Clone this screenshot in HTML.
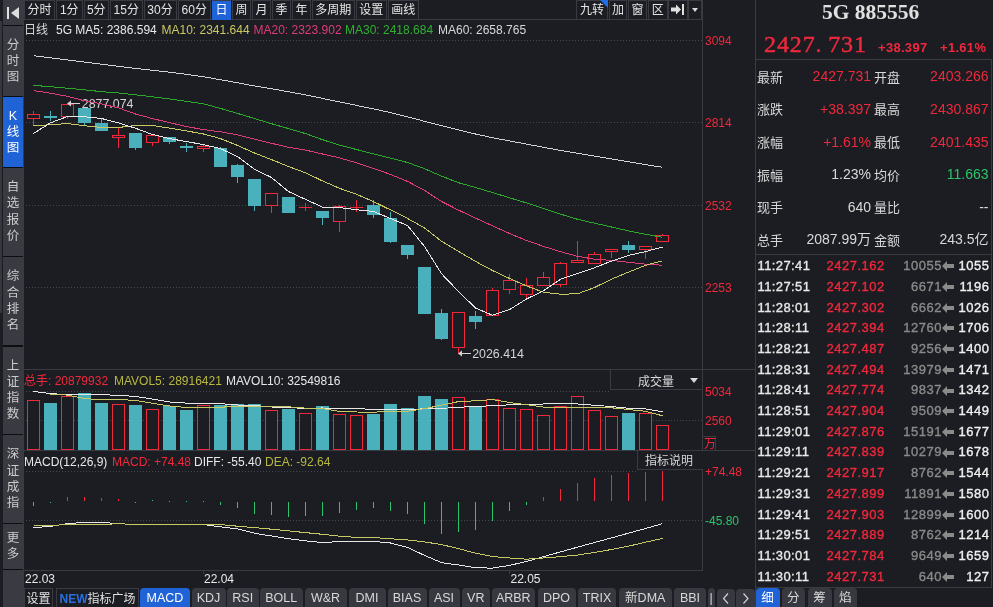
<!DOCTYPE html>
<html><head><meta charset="utf-8"><title>5G 885556</title>
<style>
html,body{margin:0;padding:0;background:#1b1d22;}
body{width:993px;height:607px;overflow:hidden;position:relative;font-family:'Liberation Sans', 'Noto Sans CJK SC', sans-serif;}
</style></head><body>
<svg id="chart" width="993" height="607" viewBox="0 0 993 607" style="position:absolute;left:0;top:0">
<line x1="26" y1="40.5" x2="702" y2="40.5" stroke="#44454d" stroke-width="1" stroke-dasharray="1 2"/>
<line x1="26" y1="122.5" x2="702" y2="122.5" stroke="#44454d" stroke-width="1" stroke-dasharray="1 2"/>
<line x1="26" y1="205.5" x2="702" y2="205.5" stroke="#44454d" stroke-width="1" stroke-dasharray="1 2"/>
<line x1="26" y1="287.5" x2="702" y2="287.5" stroke="#44454d" stroke-width="1" stroke-dasharray="1 2"/>
<line x1="26" y1="391.5" x2="610" y2="391.5" stroke="#44454d" stroke-width="1" stroke-dasharray="1 2"/>
<line x1="26" y1="420.5" x2="702" y2="420.5" stroke="#44454d" stroke-width="1" stroke-dasharray="1 2"/>
<line x1="26" y1="471.5" x2="636" y2="471.5" stroke="#44454d" stroke-width="1" stroke-dasharray="1 2"/>
<line x1="26" y1="520.5" x2="702" y2="520.5" stroke="#44454d" stroke-width="1" stroke-dasharray="1 2"/>
<g shape-rendering="crispEdges">
<rect x="33" y="111" width="1" height="3.0" fill="#f0283c"/>
<rect x="33" y="119" width="1" height="7.0" fill="#f0283c"/>
<rect x="27.5" y="114.5" width="12" height="4.0" fill="#1b1d22" stroke="#f0283c" stroke-width="1"/>
<rect x="50" y="111" width="1" height="5.0" fill="#4ab0bc"/>
<rect x="50" y="118" width="1" height="3.0" fill="#4ab0bc"/>
<rect x="44.0" y="116" width="13" height="2.0" fill="#4ab0bc"/>
<rect x="67" y="116.5" width="1" height="2.5" fill="#f0283c"/>
<rect x="61.5" y="104.5" width="12" height="11.5" fill="#1b1d22" stroke="#f0283c" stroke-width="1"/>
<rect x="84" y="123" width="1" height="2.0" fill="#4ab0bc"/>
<rect x="78.0" y="108" width="13" height="15.0" fill="#4ab0bc"/>
<rect x="101" y="119" width="1" height="4.0" fill="#4ab0bc"/>
<rect x="95.0" y="123" width="13" height="8.0" fill="#4ab0bc"/>
<rect x="118" y="128" width="1" height="7.0" fill="#f0283c"/>
<rect x="118" y="138" width="1" height="10.0" fill="#f0283c"/>
<rect x="112.5" y="135.5" width="12" height="2.0" fill="#1b1d22" stroke="#f0283c" stroke-width="1"/>
<rect x="135" y="148" width="1" height="2.0" fill="#4ab0bc"/>
<rect x="129.0" y="133" width="13" height="15.0" fill="#4ab0bc"/>
<rect x="152" y="142.5" width="1" height="3.5" fill="#f0283c"/>
<rect x="146.5" y="135.5" width="12" height="6.5" fill="#1b1d22" stroke="#f0283c" stroke-width="1"/>
<rect x="169" y="142" width="1" height="2.0" fill="#4ab0bc"/>
<rect x="163.0" y="137" width="13" height="5.0" fill="#4ab0bc"/>
<rect x="186" y="143" width="1" height="3.0" fill="#4ab0bc"/>
<rect x="186" y="148" width="1" height="4.0" fill="#4ab0bc"/>
<rect x="180.0" y="146" width="13" height="2.0" fill="#4ab0bc"/>
<rect x="203" y="145" width="1" height="1.0" fill="#f0283c"/>
<rect x="203" y="149" width="1" height="3.0" fill="#f0283c"/>
<rect x="197.5" y="146.5" width="12" height="2.0" fill="#1b1d22" stroke="#f0283c" stroke-width="1"/>
<rect x="220" y="147" width="1" height="1.0" fill="#4ab0bc"/>
<rect x="214.0" y="148" width="13" height="19.0" fill="#4ab0bc"/>
<rect x="237" y="164" width="1" height="1.0" fill="#4ab0bc"/>
<rect x="237" y="177" width="1" height="6.0" fill="#4ab0bc"/>
<rect x="231.0" y="165" width="13" height="12.0" fill="#4ab0bc"/>
<rect x="254" y="206" width="1" height="5.0" fill="#4ab0bc"/>
<rect x="248.0" y="179" width="13" height="27.0" fill="#4ab0bc"/>
<rect x="271" y="205.5" width="1" height="7.5" fill="#f0283c"/>
<rect x="265.5" y="193.5" width="12" height="11.5" fill="#1b1d22" stroke="#f0283c" stroke-width="1"/>
<rect x="282.0" y="197" width="13" height="16.0" fill="#4ab0bc"/>
<rect x="305" y="203" width="1" height="4.0" fill="#f0283c"/>
<rect x="305" y="208" width="1" height="3.0" fill="#f0283c"/>
<rect x="299.0" y="207" width="13" height="1" fill="#f0283c"/>
<rect x="322" y="218" width="1" height="7.0" fill="#4ab0bc"/>
<rect x="316.0" y="211" width="13" height="7.0" fill="#4ab0bc"/>
<rect x="339" y="205" width="1" height="1.0" fill="#f0283c"/>
<rect x="339" y="221.5" width="1" height="10.5" fill="#f0283c"/>
<rect x="333.5" y="206.5" width="12" height="14.5" fill="#1b1d22" stroke="#f0283c" stroke-width="1"/>
<rect x="356" y="200" width="1" height="7.0" fill="#f0283c"/>
<rect x="356" y="208" width="1" height="4.0" fill="#f0283c"/>
<rect x="350.0" y="207" width="13" height="1" fill="#f0283c"/>
<rect x="373" y="200" width="1" height="5.0" fill="#4ab0bc"/>
<rect x="373" y="215" width="1" height="3.0" fill="#4ab0bc"/>
<rect x="367.0" y="205" width="13" height="10.0" fill="#4ab0bc"/>
<rect x="390" y="212" width="1" height="6.0" fill="#4ab0bc"/>
<rect x="390" y="242" width="1" height="1.0" fill="#4ab0bc"/>
<rect x="384.0" y="218" width="13" height="24.0" fill="#4ab0bc"/>
<rect x="407" y="255" width="1" height="4.0" fill="#4ab0bc"/>
<rect x="401.0" y="245" width="13" height="10.0" fill="#4ab0bc"/>
<rect x="418.0" y="267" width="13" height="47.0" fill="#4ab0bc"/>
<rect x="441" y="309" width="1" height="4.0" fill="#4ab0bc"/>
<rect x="441" y="339" width="1" height="1.0" fill="#4ab0bc"/>
<rect x="435.0" y="313" width="13" height="26.0" fill="#4ab0bc"/>
<rect x="458" y="347.5" width="1" height="6.5" fill="#f0283c"/>
<rect x="452.5" y="312.5" width="12" height="34.5" fill="#1b1d22" stroke="#f0283c" stroke-width="1"/>
<rect x="475" y="311" width="1" height="5.0" fill="#4ab0bc"/>
<rect x="475" y="322" width="1" height="7.0" fill="#4ab0bc"/>
<rect x="469.0" y="316" width="13" height="6.0" fill="#4ab0bc"/>
<rect x="492" y="288" width="1" height="2.0" fill="#f0283c"/>
<rect x="486.5" y="290.5" width="12" height="24.5" fill="#1b1d22" stroke="#f0283c" stroke-width="1"/>
<rect x="509" y="274" width="1" height="6.0" fill="#f0283c"/>
<rect x="509" y="289.5" width="1" height="4.5" fill="#f0283c"/>
<rect x="503.5" y="280.5" width="12" height="8.5" fill="#1b1d22" stroke="#f0283c" stroke-width="1"/>
<rect x="526" y="278" width="1" height="7.0" fill="#f0283c"/>
<rect x="526" y="295" width="1" height="4.5" fill="#f0283c"/>
<rect x="520.5" y="285.5" width="12" height="9.0" fill="#1b1d22" stroke="#f0283c" stroke-width="1"/>
<rect x="543" y="272" width="1" height="5.0" fill="#f0283c"/>
<rect x="537.5" y="277.5" width="12" height="7.5" fill="#1b1d22" stroke="#f0283c" stroke-width="1"/>
<rect x="560" y="262" width="1" height="1.0" fill="#f0283c"/>
<rect x="560" y="284.5" width="1" height="2.5" fill="#f0283c"/>
<rect x="554.5" y="263.5" width="12" height="20.5" fill="#1b1d22" stroke="#f0283c" stroke-width="1"/>
<rect x="577" y="241" width="1" height="19.0" fill="#f0283c"/>
<rect x="571.5" y="260.5" width="12" height="2.0" fill="#1b1d22" stroke="#f0283c" stroke-width="1"/>
<rect x="594" y="252" width="1" height="2.0" fill="#f0283c"/>
<rect x="588.5" y="254.5" width="12" height="9.0" fill="#1b1d22" stroke="#f0283c" stroke-width="1"/>
<rect x="611" y="252" width="1" height="6.0" fill="#f0283c"/>
<rect x="605.5" y="249.5" width="12" height="2.0" fill="#1b1d22" stroke="#f0283c" stroke-width="1"/>
<rect x="628" y="241" width="1" height="4.0" fill="#4ab0bc"/>
<rect x="628" y="250" width="1" height="3.0" fill="#4ab0bc"/>
<rect x="622.0" y="245" width="13" height="5.0" fill="#4ab0bc"/>
<rect x="645" y="249.5" width="1" height="9.5" fill="#f0283c"/>
<rect x="639.5" y="246.5" width="12" height="2.5" fill="#1b1d22" stroke="#f0283c" stroke-width="1"/>
<rect x="662" y="234" width="1" height="1.0" fill="#f0283c"/>
<rect x="656.5" y="235.5" width="12" height="6.0" fill="#1b1d22" stroke="#f0283c" stroke-width="1"/>
<rect x="27.5" y="400.8" width="12" height="48.7" fill="#1b1d22" stroke="#f0283c" stroke-width="1"/>
<rect x="44.0" y="403.0" width="13" height="47.0" fill="#4ab0bc"/>
<rect x="61.5" y="396.0" width="12" height="53.5" fill="#1b1d22" stroke="#f0283c" stroke-width="1"/>
<rect x="78.0" y="393.1" width="13" height="56.9" fill="#4ab0bc"/>
<rect x="95.0" y="403.0" width="13" height="47.0" fill="#4ab0bc"/>
<rect x="112.5" y="404.5" width="12" height="45.0" fill="#1b1d22" stroke="#f0283c" stroke-width="1"/>
<rect x="129.0" y="404.9" width="13" height="45.1" fill="#4ab0bc"/>
<rect x="146.5" y="409.5" width="12" height="40.0" fill="#1b1d22" stroke="#f0283c" stroke-width="1"/>
<rect x="163.0" y="405.8" width="13" height="44.2" fill="#4ab0bc"/>
<rect x="180.0" y="410.0" width="13" height="40.0" fill="#4ab0bc"/>
<rect x="197.5" y="405.7" width="12" height="43.8" fill="#1b1d22" stroke="#f0283c" stroke-width="1"/>
<rect x="214.0" y="404.9" width="13" height="45.1" fill="#4ab0bc"/>
<rect x="231.0" y="404.0" width="13" height="46.0" fill="#4ab0bc"/>
<rect x="248.0" y="404.0" width="13" height="46.0" fill="#4ab0bc"/>
<rect x="265.5" y="410.8" width="12" height="38.7" fill="#1b1d22" stroke="#f0283c" stroke-width="1"/>
<rect x="282.0" y="408.5" width="13" height="41.5" fill="#4ab0bc"/>
<rect x="299.5" y="413.5" width="12" height="36.0" fill="#1b1d22" stroke="#f0283c" stroke-width="1"/>
<rect x="316.0" y="406.3" width="13" height="43.7" fill="#4ab0bc"/>
<rect x="333.5" y="414.5" width="12" height="35.0" fill="#1b1d22" stroke="#f0283c" stroke-width="1"/>
<rect x="350.5" y="415.9" width="12" height="33.6" fill="#1b1d22" stroke="#f0283c" stroke-width="1"/>
<rect x="367.0" y="413.9" width="13" height="36.1" fill="#4ab0bc"/>
<rect x="384.0" y="404.0" width="13" height="46.0" fill="#4ab0bc"/>
<rect x="401.0" y="408.1" width="13" height="41.9" fill="#4ab0bc"/>
<rect x="418.0" y="395.8" width="13" height="54.2" fill="#4ab0bc"/>
<rect x="435.0" y="398.9" width="13" height="51.1" fill="#4ab0bc"/>
<rect x="452.5" y="397.8" width="12" height="51.7" fill="#1b1d22" stroke="#f0283c" stroke-width="1"/>
<rect x="469.0" y="406.7" width="13" height="43.3" fill="#4ab0bc"/>
<rect x="486.5" y="399.4" width="12" height="50.1" fill="#1b1d22" stroke="#f0283c" stroke-width="1"/>
<rect x="503.5" y="408.1" width="12" height="41.4" fill="#1b1d22" stroke="#f0283c" stroke-width="1"/>
<rect x="520.5" y="409.9" width="12" height="39.6" fill="#1b1d22" stroke="#f0283c" stroke-width="1"/>
<rect x="537.5" y="415.9" width="12" height="33.6" fill="#1b1d22" stroke="#f0283c" stroke-width="1"/>
<rect x="554.5" y="406.8" width="12" height="42.7" fill="#1b1d22" stroke="#f0283c" stroke-width="1"/>
<rect x="571.5" y="396.9" width="12" height="52.6" fill="#1b1d22" stroke="#f0283c" stroke-width="1"/>
<rect x="588.5" y="410.8" width="12" height="38.7" fill="#1b1d22" stroke="#f0283c" stroke-width="1"/>
<rect x="605.5" y="416.8" width="12" height="32.7" fill="#1b1d22" stroke="#f0283c" stroke-width="1"/>
<rect x="622.0" y="413.0" width="13" height="37.0" fill="#4ab0bc"/>
<rect x="639.5" y="413.5" width="12" height="36.0" fill="#1b1d22" stroke="#f0283c" stroke-width="1"/>
<rect x="656.5" y="425.7" width="12" height="23.8" fill="#1b1d22" stroke="#f0283c" stroke-width="1"/>
<rect x="33" y="502" width="1" height="4.0" fill="#2cc46a"/>
<rect x="50" y="502" width="1" height="0.6" fill="#2cc46a"/>
<rect x="67" y="497.0" width="1" height="4.0" fill="#f0283c"/>
<rect x="84" y="497.0" width="1" height="4.0" fill="#f0283c"/>
<rect x="101" y="498.0" width="1" height="3.0" fill="#f0283c"/>
<rect x="118" y="499.0" width="1" height="2.0" fill="#f0283c"/>
<rect x="135" y="502" width="1" height="0.6" fill="#2cc46a"/>
<rect x="152" y="500" width="1" height="1" fill="#2cc46a"/>
<rect x="169" y="501" width="1" height="1" fill="#2cc46a"/>
<rect x="186" y="501" width="1" height="1" fill="#2cc46a"/>
<rect x="203" y="501" width="1" height="1" fill="#2cc46a"/>
<rect x="220" y="502" width="1" height="3.0" fill="#2cc46a"/>
<rect x="237" y="502" width="1" height="6.0" fill="#2cc46a"/>
<rect x="254" y="502" width="1" height="12.0" fill="#2cc46a"/>
<rect x="271" y="502" width="1" height="13.0" fill="#2cc46a"/>
<rect x="288" y="502" width="1" height="14.7" fill="#2cc46a"/>
<rect x="305" y="502" width="1" height="14.0" fill="#2cc46a"/>
<rect x="322" y="502" width="1" height="14.0" fill="#2cc46a"/>
<rect x="339" y="502" width="1" height="11.0" fill="#2cc46a"/>
<rect x="356" y="502" width="1" height="8.0" fill="#2cc46a"/>
<rect x="373" y="502" width="1" height="6.0" fill="#2cc46a"/>
<rect x="390" y="502" width="1" height="8.7" fill="#2cc46a"/>
<rect x="407" y="502" width="1" height="12.0" fill="#2cc46a"/>
<rect x="424" y="502" width="1" height="22.0" fill="#2cc46a"/>
<rect x="441" y="502" width="1" height="32.0" fill="#2cc46a"/>
<rect x="458" y="502" width="1" height="30.0" fill="#2cc46a"/>
<rect x="475" y="502" width="1" height="28.0" fill="#2cc46a"/>
<rect x="492" y="502" width="1" height="19.0" fill="#2cc46a"/>
<rect x="509" y="502" width="1" height="9.0" fill="#2cc46a"/>
<rect x="526" y="502" width="1" height="2.5" fill="#2cc46a"/>
<rect x="543" y="497.0" width="1" height="4.0" fill="#f0283c"/>
<rect x="560" y="489.0" width="1" height="12.0" fill="#f0283c"/>
<rect x="577" y="483.0" width="1" height="18.0" fill="#f0283c"/>
<rect x="594" y="478.0" width="1" height="23.0" fill="#f0283c"/>
<rect x="611" y="475.0" width="1" height="26.0" fill="#f0283c"/>
<rect x="628" y="473.0" width="1" height="28.0" fill="#f0283c"/>
<rect x="645" y="472.0" width="1" height="29.0" fill="#f0283c"/>
<rect x="662" y="471.0" width="1" height="30.0" fill="#f0283c"/>
</g>
<g fill="#d4d4d4"><polygon points="67,103.5 71,100.5 71,106.5"/><rect x="71" y="103" width="9" height="1"/><polygon points="458,353.5 462,350.5 462,356.5"/><rect x="462" y="353" width="9" height="1"/></g>
<g font-family="Liberation Sans, sans-serif" font-size="12.4" fill="#d4d4d4"><text x="81.8" y="107.7">2877.074</text><text x="472.2" y="357.7">2026.414</text></g>
<polyline points="33.5,55.7 50.5,57.8 67.5,60.0 84.5,62.1 101.5,64.2 118.5,66.3 135.5,68.4 152.5,70.3 169.5,72.2 186.5,74.3 203.5,76.8 220.5,79.7 237.5,82.8 254.5,86.0 271.5,88.8 288.5,91.7 305.5,94.9 322.5,98.4 339.5,101.9 356.5,105.4 373.5,108.9 390.5,112.6 407.5,116.8 424.5,121.3 441.5,125.6 458.5,129.9 475.5,134.0 492.5,137.7 509.5,140.9 526.5,144.1 543.5,147.3 560.5,150.4 577.5,153.3 594.5,156.1 611.5,159.0 628.5,161.8 645.5,164.6 662.5,167.3" fill="none" stroke="#d2d2d2" stroke-width="1" shape-rendering="crispEdges"/>
<polyline points="33.5,85.4 50.5,86.7 67.5,88.2 84.5,89.9 101.5,91.6 118.5,93.0 135.5,94.8 152.5,96.8 169.5,98.9 186.5,101.3 203.5,103.8 220.5,108.4 237.5,113.4 254.5,118.5 271.5,123.7 288.5,128.6 305.5,133.6 322.5,139.7 339.5,145.2 356.5,149.5 373.5,153.9 390.5,158.2 407.5,162.5 424.5,168.7 441.5,176.1 458.5,182.7 475.5,187.5 492.5,192.5 509.5,197.8 526.5,202.9 543.5,208.4 560.5,214.1 577.5,219.3 594.5,223.2 611.5,227.0 628.5,230.9 645.5,234.3 662.5,237.2" fill="none" stroke="#2aa82a" stroke-width="1" shape-rendering="crispEdges"/>
<polyline points="33.5,90.6 50.5,93.2 67.5,96.3 84.5,100.8 101.5,103.9 118.5,107.9 135.5,114.0 152.5,118.6 169.5,122.6 186.5,126.6 203.5,129.6 220.5,131.8 237.5,134.8 254.5,139.1 271.5,143.3 288.5,147.3 305.5,150.1 322.5,154.0 339.5,157.9 356.5,162.8 373.5,168.4 390.5,174.4 407.5,181.4 424.5,190.4 441.5,201.5 458.5,210.1 475.5,218.1 492.5,225.8 509.5,233.5 526.5,240.5 543.5,246.4 560.5,251.7 577.5,256.3 594.5,259.2 611.5,260.4 628.5,262.3 645.5,264.2 662.5,265.2" fill="none" stroke="#de3c7c" stroke-width="1" shape-rendering="crispEdges"/>
<polyline points="33.5,125.3 50.5,124.9 67.5,123.5 84.5,125.8 101.5,127.4 118.5,127.5 135.5,125.4 152.5,125.5 169.5,128.1 186.5,130.9 203.5,134.0 220.5,138.6 237.5,145.4 254.5,153.0 271.5,159.6 288.5,166.5 305.5,172.8 322.5,180.9 339.5,188.3 356.5,194.3 373.5,201.6 390.5,209.9 407.5,218.4 424.5,227.9 441.5,241.2 458.5,251.5 475.5,261.4 492.5,270.5 509.5,278.5 526.5,285.9 543.5,292.2 560.5,294.2 577.5,293.8 594.5,287.5 611.5,279.2 628.5,272.1 645.5,265.3 662.5,260.8" fill="none" stroke="#c8c864" stroke-width="1" shape-rendering="crispEdges"/>
<polyline points="33.5,133.5 50.5,122.8 67.5,116.5 84.5,116.7 101.5,118.5 118.5,122.8 135.5,128.3 152.5,134.5 169.5,138.6 186.5,141.6 203.5,144.6 220.5,148.6 237.5,156.6 254.5,169.3 271.5,177.5 288.5,191.5 305.5,199.4 322.5,207.1 339.5,207.5 356.5,209.8 373.5,211.5 390.5,218.5 407.5,225.5 424.5,246.5 441.5,273.7 458.5,291.5 475.5,308.0 492.5,315.3 509.5,309.6 526.5,299.0 543.5,290.8 560.5,279.3 577.5,273.6 594.5,267.7 611.5,261.1 628.5,255.4 645.5,251.6 662.5,247.0" fill="none" stroke="#e8e8e8" stroke-width="1" shape-rendering="crispEdges"/>
<polyline points="33.5,391.5 50.5,393.6 67.5,394.6 84.5,394.6 101.5,394.6 118.5,395.4 135.5,396.4 152.5,399.1 169.5,402.0 186.5,403.1 203.5,403.4 220.5,403.6 237.5,405.0 254.5,405.5 271.5,407.0 288.5,407.8 305.5,408.2 322.5,408.0 339.5,408.4 356.5,408.5 373.5,409.5 390.5,409.5 407.5,409.3 424.5,408.9 441.5,408.5 458.5,407.1 475.5,406.8 492.5,405.5 509.5,404.9 526.5,404.3 543.5,404.0 560.5,403.6 577.5,404.0 594.5,405.3 611.5,406.5 628.5,408.3 645.5,408.9 662.5,411.8" fill="none" stroke="#e8e8e8" stroke-width="1" shape-rendering="crispEdges"/>
<polyline points="50.5,394.2 67.5,395.1 84.5,398.6 101.5,399.6 118.5,399.4 135.5,400.5 152.5,403.2 169.5,406.0 186.5,407.5 203.5,407.5 220.5,407.2 237.5,406.4 254.5,406.3 271.5,406.8 288.5,406.8 305.5,408.1 322.5,408.6 339.5,411.4 356.5,412.0 373.5,412.2 390.5,411.2 407.5,411.2 424.5,408.7 441.5,405.1 458.5,401.6 475.5,400.8 492.5,399.6 509.5,402.5 526.5,404.7 543.5,407.1 560.5,407.1 577.5,407.2 594.5,407.4 611.5,407.8 628.5,409.5 645.5,411.3 662.5,415.8" fill="none" stroke="#c8c864" stroke-width="1" shape-rendering="crispEdges"/>
<polyline points="33.5,527.6 50.5,526.4 67.5,523.6 84.5,522.4 101.5,522.4 118.5,523.6 135.5,524.6 152.5,524.6 169.5,524.6 186.5,524.6 203.5,524.6 220.5,526.8 237.5,528.9 254.5,533.2 271.5,536.0 288.5,538.7 305.5,540.9 322.5,542.6 339.5,541.5 356.5,541.5 373.5,541.4 390.5,543.0 407.5,547.4 424.5,555.4 441.5,562.6 458.5,565.0 475.5,567.8 492.5,568.1 509.5,565.4 526.5,561.5 543.5,556.6 560.5,551.9 577.5,547.2 594.5,542.5 611.5,537.9 628.5,533.2 645.5,528.5 662.5,523.6" fill="none" stroke="#e8e8e8" stroke-width="1" shape-rendering="crispEdges"/>
<polyline points="33.5,525.4 50.5,525.4 67.5,524.6 84.5,524.6 101.5,524.6 118.5,523.6 135.5,524.6 152.5,524.6 169.5,524.6 186.5,524.6 203.5,524.6 220.5,524.6 237.5,526.2 254.5,527.6 271.5,529.2 288.5,530.9 305.5,532.6 322.5,534.3 339.5,536.2 356.5,537.4 373.5,537.5 390.5,538.8 407.5,539.9 424.5,541.9 441.5,544.6 458.5,548.6 475.5,553.2 492.5,556.5 509.5,558.0 526.5,559.2 543.5,558.0 560.5,556.6 577.5,555.1 594.5,552.4 611.5,549.5 628.5,546.2 645.5,542.2 662.5,538.4" fill="none" stroke="#c8c864" stroke-width="1" shape-rendering="crispEdges"/>
<g shape-rendering="crispEdges" fill="#3a3b41">
<rect x="24" y="19" width="679" height="1"/>
<rect x="702" y="0" width="1" height="570"/>
<rect x="755" y="0" width="1" height="607"/>
<rect x="24" y="369" width="731" height="1"/>
<rect x="24" y="450" width="731" height="1"/>
<rect x="24" y="570" width="679" height="1"/>
<rect x="203" y="571" width="1" height="3"/><rect x="509" y="571" width="1" height="3"/>
<rect x="756" y="59" width="236" height="1"/>
<rect x="756" y="254" width="235" height="1"/>
<rect x="756" y="587" width="235" height="1"/>
<rect x="991" y="59" width="1" height="529"/>
</g>
</svg>
<div style="position:absolute;left:3px;top:0;width:21px;height:607px;background:#3a3a42"></div>
<div style="position:absolute;left:0;top:21px;width:2px;height:292px;background:#36363d"></div>
<div style="position:absolute;left:3px;top:25px;width:20px;height:1px;background:#0d0e11"></div>
<div style="position:absolute;left:3px;top:96px;width:20px;height:1px;background:#0d0e11"></div>
<div style="position:absolute;left:3px;top:167px;width:20px;height:1px;background:#0d0e11"></div>
<div style="position:absolute;left:3px;top:255.5px;width:20px;height:1.5px;background:#0d0e11"></div>
<div style="position:absolute;left:3px;top:345px;width:20px;height:1.5px;background:#0d0e11"></div>
<div style="position:absolute;left:3px;top:434px;width:20px;height:1px;background:#0d0e11"></div>
<div style="position:absolute;left:3px;top:523px;width:20px;height:1px;background:#0d0e11"></div>
<div style="position:absolute;left:3px;top:569px;width:20px;height:1px;background:#0d0e11"></div>
<div style="position:absolute;left:7px;top:7px;width:2px;height:12px;background:#e0e0e0"></div>
<svg style="position:absolute;left:0;top:0" width="24" height="25"><polygon points="19,7 19,19 11,13" fill="#dcdcdc"/></svg>
<div style="position:absolute;left:3px;top:97px;width:20px;height:70px;background:#1f63d6"></div>
<div style="position:absolute;left:3px;top:36.5px;width:20px;text-align:center;font:12.5px/16.3px 'Liberation Sans', 'Noto Sans CJK SC', sans-serif;color:#cccccc">分<br>时<br>图</div>
<div style="position:absolute;left:3px;top:107.5px;width:20px;text-align:center;font:12.5px/16.3px 'Liberation Sans', 'Noto Sans CJK SC', sans-serif;color:#ffffff">K<br>线<br>图</div>
<div style="position:absolute;left:3px;top:179.2px;width:20px;text-align:center;font:12.5px/16.3px 'Liberation Sans', 'Noto Sans CJK SC', sans-serif;color:#cccccc">自<br>选<br>报<br>价</div>
<div style="position:absolute;left:3px;top:268.4px;width:20px;text-align:center;font:12.5px/16.3px 'Liberation Sans', 'Noto Sans CJK SC', sans-serif;color:#cccccc">综<br>合<br>排<br>名</div>
<div style="position:absolute;left:3px;top:357.6px;width:20px;text-align:center;font:12.5px/16.3px 'Liberation Sans', 'Noto Sans CJK SC', sans-serif;color:#cccccc">上<br>证<br>指<br>数</div>
<div style="position:absolute;left:3px;top:446.4px;width:20px;text-align:center;font:12.5px/16.3px 'Liberation Sans', 'Noto Sans CJK SC', sans-serif;color:#cccccc">深<br>证<br>成<br>指</div>
<div style="position:absolute;left:3px;top:530.2px;width:20px;text-align:center;font:12.5px/16.3px 'Liberation Sans', 'Noto Sans CJK SC', sans-serif;color:#cccccc">更<br>多</div>
<div style="position:absolute;left:24px;top:0;width:29.0px;height:18px;border:1px solid #3a3b42;border-top-color:#3a3b42;background:#1b1d22;color:#e4e4e4;font:12px/18px 'Liberation Sans', 'Noto Sans CJK SC', sans-serif;text-align:center;white-space:nowrap">分时</div>
<div style="position:absolute;left:56px;top:0;width:24.5px;height:18px;border:1px solid #3a3b42;border-top-color:#3a3b42;background:#1b1d22;color:#e4e4e4;font:12px/18px 'Liberation Sans', 'Noto Sans CJK SC', sans-serif;text-align:center;white-space:nowrap">1分</div>
<div style="position:absolute;left:83.5px;top:0;width:23.5px;height:18px;border:1px solid #3a3b42;border-top-color:#3a3b42;background:#1b1d22;color:#e4e4e4;font:12px/18px 'Liberation Sans', 'Noto Sans CJK SC', sans-serif;text-align:center;white-space:nowrap">5分</div>
<div style="position:absolute;left:110px;top:0;width:30.5px;height:18px;border:1px solid #3a3b42;border-top-color:#3a3b42;background:#1b1d22;color:#e4e4e4;font:12px/18px 'Liberation Sans', 'Noto Sans CJK SC', sans-serif;text-align:center;white-space:nowrap">15分</div>
<div style="position:absolute;left:143.5px;top:0;width:31.0px;height:18px;border:1px solid #3a3b42;border-top-color:#3a3b42;background:#1b1d22;color:#e4e4e4;font:12px/18px 'Liberation Sans', 'Noto Sans CJK SC', sans-serif;text-align:center;white-space:nowrap">30分</div>
<div style="position:absolute;left:177.5px;top:0;width:31.5px;height:18px;border:1px solid #3a3b42;border-top-color:#3a3b42;background:#1b1d22;color:#e4e4e4;font:12px/18px 'Liberation Sans', 'Noto Sans CJK SC', sans-serif;text-align:center;white-space:nowrap">60分</div>
<div style="position:absolute;left:212px;top:0;width:17.0px;height:18px;border:1px solid #1f63d6;border-top-color:#3a3b42;background:#1f63d6;color:#ffffff;font:12px/18px 'Liberation Sans', 'Noto Sans CJK SC', sans-serif;text-align:center;white-space:nowrap">日</div>
<div style="position:absolute;left:232px;top:0;width:17.0px;height:18px;border:1px solid #3a3b42;border-top-color:#3a3b42;background:#1b1d22;color:#e4e4e4;font:12px/18px 'Liberation Sans', 'Noto Sans CJK SC', sans-serif;text-align:center;white-space:nowrap">周</div>
<div style="position:absolute;left:252px;top:0;width:17.0px;height:18px;border:1px solid #3a3b42;border-top-color:#3a3b42;background:#1b1d22;color:#e4e4e4;font:12px/18px 'Liberation Sans', 'Noto Sans CJK SC', sans-serif;text-align:center;white-space:nowrap">月</div>
<div style="position:absolute;left:272px;top:0;width:17.0px;height:18px;border:1px solid #3a3b42;border-top-color:#3a3b42;background:#1b1d22;color:#e4e4e4;font:12px/18px 'Liberation Sans', 'Noto Sans CJK SC', sans-serif;text-align:center;white-space:nowrap">季</div>
<div style="position:absolute;left:292px;top:0;width:17.0px;height:18px;border:1px solid #3a3b42;border-top-color:#3a3b42;background:#1b1d22;color:#e4e4e4;font:12px/18px 'Liberation Sans', 'Noto Sans CJK SC', sans-serif;text-align:center;white-space:nowrap">年</div>
<div style="position:absolute;left:312px;top:0;width:40.5px;height:18px;border:1px solid #3a3b42;border-top-color:#3a3b42;background:#1b1d22;color:#e4e4e4;font:12px/18px 'Liberation Sans', 'Noto Sans CJK SC', sans-serif;text-align:center;white-space:nowrap">多周期</div>
<div style="position:absolute;left:356px;top:0;width:28.5px;height:18px;border:1px solid #3a3b42;border-top-color:#3a3b42;background:#1b1d22;color:#e4e4e4;font:12px/18px 'Liberation Sans', 'Noto Sans CJK SC', sans-serif;text-align:center;white-space:nowrap">设置</div>
<div style="position:absolute;left:388px;top:0;width:28.5px;height:18px;border:1px solid #3a3b42;border-top-color:#3a3b42;background:#1b1d22;color:#e4e4e4;font:12px/18px 'Liberation Sans', 'Noto Sans CJK SC', sans-serif;text-align:center;white-space:nowrap">画线</div>
<div style="position:absolute;left:576px;top:0;width:30.0px;height:18px;border:1px solid #3a3b42;border-top-color:#3a3b42;background:#1b1d22;color:#e4e4e4;font:12px/18px 'Liberation Sans', 'Noto Sans CJK SC', sans-serif;text-align:center;white-space:nowrap">九转</div>
<div style="position:absolute;left:609px;top:0;width:16.0px;height:18px;border:1px solid #3a3b42;border-top-color:#3a3b42;background:#1b1d22;color:#e4e4e4;font:12px/18px 'Liberation Sans', 'Noto Sans CJK SC', sans-serif;text-align:center;white-space:nowrap">加</div>
<div style="position:absolute;left:628px;top:0;width:17.0px;height:18px;border:1px solid #3a3b42;border-top-color:#3a3b42;background:#1b1d22;color:#e4e4e4;font:12px/18px 'Liberation Sans', 'Noto Sans CJK SC', sans-serif;text-align:center;white-space:nowrap">窗</div>
<div style="position:absolute;left:648px;top:0;width:17.5px;height:18px;border:1px solid #3a3b42;border-top-color:#3a3b42;background:#1b1d22;color:#e4e4e4;font:12px/18px 'Liberation Sans', 'Noto Sans CJK SC', sans-serif;text-align:center;white-space:nowrap">区</div>
<div style="position:absolute;left:668px;top:0;width:17.5px;height:18px;border:1px solid #3a3b42;border-top-color:#3a3b42;background:#1b1d22;color:#e4e4e4;font:12px/18px 'Liberation Sans', 'Noto Sans CJK SC', sans-serif;text-align:center;white-space:nowrap"></div>
<div style="position:absolute;left:688px;top:0;width:11.5px;height:18px;border:1px solid #3a3b42;border-top-color:#3a3b42;background:#1b1d22;color:#e4e4e4;font:12px/18px 'Liberation Sans', 'Noto Sans CJK SC', sans-serif;text-align:center;white-space:nowrap"></div>
<svg style="position:absolute;left:599px;top:0" width="10" height="9"><polygon points="1,0 9,0 9,8" fill="#1f6ee8"/></svg>
<svg style="position:absolute;left:668px;top:0" width="20" height="19"><polygon points="3,7.5 8,7.5 8,4.5 13,9.5 8,14.5 8,11.5 3,11.5" fill="#e0e0e0"/><rect x="14" y="4" width="2" height="11" fill="#e0e0e0"/></svg>
<svg style="position:absolute;left:688px;top:0" width="14" height="19"><polygon points="4,8 10,8 7,12" fill="#d8d8d8"/></svg>
<div style="position:absolute;left:24px;top:23.0px;height:14.4px;line-height:14.4px;font-size:12px;color:#d8d8d8;white-space:nowrap;">日线</div>
<div style="position:absolute;left:56px;top:23.0px;height:14.4px;line-height:14.4px;font-size:12px;color:#e8e8e8;white-space:nowrap;">5G MA5: 2386.594</div>
<div style="position:absolute;left:161.5px;top:23.0px;height:14.4px;line-height:14.4px;font-size:12px;color:#c8c864;white-space:nowrap;">MA10: 2341.644</div>
<div style="position:absolute;left:253.5px;top:23.0px;height:14.4px;line-height:14.4px;font-size:12px;color:#de3c7c;white-space:nowrap;">MA20: 2323.902</div>
<div style="position:absolute;left:345px;top:23.0px;height:14.4px;line-height:14.4px;font-size:12px;color:#30b030;white-space:nowrap;">MA30: 2418.684</div>
<div style="position:absolute;left:438px;top:23.0px;height:14.4px;line-height:14.4px;font-size:12px;color:#d8d8d8;white-space:nowrap;">MA60: 2658.765</div>
<div style="position:absolute;left:705px;top:34.0px;height:14.4px;line-height:14.4px;font-size:12px;color:#f0283c;white-space:nowrap;">3094</div>
<div style="position:absolute;left:705px;top:116.0px;height:14.4px;line-height:14.4px;font-size:12px;color:#f0283c;white-space:nowrap;">2814</div>
<div style="position:absolute;left:705px;top:199.0px;height:14.4px;line-height:14.4px;font-size:12px;color:#f0283c;white-space:nowrap;">2532</div>
<div style="position:absolute;left:705px;top:281.0px;height:14.4px;line-height:14.4px;font-size:12px;color:#f0283c;white-space:nowrap;">2253</div>
<div style="position:absolute;left:24px;top:374.0px;height:14.4px;line-height:14.4px;font-size:12px;color:#f0283c;white-space:nowrap;">总手: 20879932</div>
<div style="position:absolute;left:114px;top:374.0px;height:14.4px;line-height:14.4px;font-size:12px;color:#b8b840;white-space:nowrap;">MAVOL5: 28916421</div>
<div style="position:absolute;left:226px;top:374.0px;height:14.4px;line-height:14.4px;font-size:12px;color:#e8e8e8;white-space:nowrap;">MAVOL10: 32549816</div>
<div style="position:absolute;left:610px;top:370px;width:91px;height:19px;border:1px solid #3a3b42;border-top:none;border-right:none;background:#1b1d22"></div>
<div style="position:absolute;left:638px;top:374.5px;height:14.4px;line-height:14.4px;font-size:12px;color:#d8d8d8;white-space:nowrap;">成交量</div>
<svg style="position:absolute;left:690px;top:378px" width="10" height="6"><polygon points="0,0 8,0 4,5" fill="#d8d8d8"/></svg>
<div style="position:absolute;left:705px;top:385.0px;height:14.4px;line-height:14.4px;font-size:12px;color:#f0283c;white-space:nowrap;">5034</div>
<div style="position:absolute;left:705px;top:414.0px;height:14.4px;line-height:14.4px;font-size:12px;color:#f0283c;white-space:nowrap;">2560</div>
<div style="position:absolute;left:703px;top:436px;width:12px;height:13px;border:1px solid #3a3b42;border-left:none"></div>
<div style="position:absolute;left:704px;top:437.0px;height:14.4px;line-height:14.4px;font-size:12px;color:#f0283c;white-space:nowrap;">万</div>
<div style="position:absolute;left:24px;top:454.8px;height:14.4px;line-height:14.4px;font-size:12px;color:#e8e8e8;white-space:nowrap;">MACD(12,26,9)</div>
<div style="position:absolute;left:112px;top:454.8px;height:14.4px;line-height:14.4px;font-size:12px;color:#f0283c;white-space:nowrap;">MACD: +74.48</div>
<div style="position:absolute;left:194px;top:454.8px;height:14.4px;line-height:14.4px;font-size:12px;color:#e8e8e8;white-space:nowrap;">DIFF: -55.40</div>
<div style="position:absolute;left:265px;top:454.8px;height:14.4px;line-height:14.4px;font-size:12px;color:#b8b840;white-space:nowrap;">DEA: -92.64</div>
<div style="position:absolute;left:637px;top:451px;width:65px;height:18px;border:1px solid #3a3b42;border-top:none;border-right:none;background:#1b1d22"></div>
<div style="position:absolute;left:645px;top:454.3px;height:14.4px;line-height:14.4px;font-size:12px;color:#d8d8d8;white-space:nowrap;">指标说明</div>
<div style="position:absolute;left:705px;top:465.3px;height:14.4px;line-height:14.4px;font-size:12px;color:#f0283c;white-space:nowrap;">+74.48</div>
<div style="position:absolute;left:705px;top:514.3px;height:14.4px;line-height:14.4px;font-size:12px;color:#2cc46a;white-space:nowrap;">-45.80</div>
<div style="position:absolute;left:25px;top:572.2px;height:14.4px;line-height:14.4px;font-size:12px;color:#e8e8e8;white-space:nowrap;">22.03</div>
<div style="position:absolute;left:204px;top:572.2px;height:14.4px;line-height:14.4px;font-size:12px;color:#e8e8e8;white-space:nowrap;">22.04</div>
<div style="position:absolute;left:510.5px;top:572.2px;height:14.4px;line-height:14.4px;font-size:12px;color:#e8e8e8;white-space:nowrap;">22.05</div>
<div style="position:absolute;left:822px;top:0px;font:bold 21.5px/24px 'Liberation Serif', serif;color:#e0e0e0;white-space:nowrap">5G 885556</div>
<div style="position:absolute;left:764px;top:28.6px;font:24px/30px 'Liberation Serif', serif;-webkit-text-stroke:0.45px #f0283c;letter-spacing:0.9px;color:#f0283c;white-space:nowrap">2427<span style="display:inline-block;width:12.6px">.</span>731</div>
<div style="position:absolute;left:878px;top:39.9px;height:15.6px;line-height:15.6px;font-size:13px;color:#f0283c;white-space:nowrap;font-weight:bold;letter-spacing:0.3px;">+38.397</div>
<div style="position:absolute;left:940px;top:39.9px;height:15.6px;line-height:15.6px;font-size:13px;color:#f0283c;white-space:nowrap;font-weight:bold;letter-spacing:0.3px;">+1.61%</div>
<div style="position:absolute;left:757px;top:69.7px;height:15.6px;line-height:15.6px;font-size:13px;color:#d8d8d8;white-space:nowrap;">最新</div>
<div style="position:absolute;left:790px;width:81px;top:68.4px;line-height:16.8px;font-size:14px;color:#f0283c;text-align:right;white-space:nowrap">2427.731</div>
<div style="position:absolute;left:874px;top:69.7px;height:15.6px;line-height:15.6px;font-size:13px;color:#d8d8d8;white-space:nowrap;">开盘</div>
<div style="position:absolute;left:900px;width:88.5px;top:68.4px;line-height:16.8px;font-size:14px;color:#f0283c;text-align:right;white-space:nowrap">2403.266</div>
<div style="position:absolute;left:757px;top:102.3px;height:15.6px;line-height:15.6px;font-size:13px;color:#d8d8d8;white-space:nowrap;">涨跌</div>
<div style="position:absolute;left:790px;width:81px;top:101.0px;line-height:16.8px;font-size:14px;color:#f0283c;text-align:right;white-space:nowrap">+38.397</div>
<div style="position:absolute;left:874px;top:102.3px;height:15.6px;line-height:15.6px;font-size:13px;color:#d8d8d8;white-space:nowrap;">最高</div>
<div style="position:absolute;left:900px;width:88.5px;top:101.0px;line-height:16.8px;font-size:14px;color:#f0283c;text-align:right;white-space:nowrap">2430.867</div>
<div style="position:absolute;left:757px;top:134.9px;height:15.6px;line-height:15.6px;font-size:13px;color:#d8d8d8;white-space:nowrap;">涨幅</div>
<div style="position:absolute;left:790px;width:81px;top:133.6px;line-height:16.8px;font-size:14px;color:#f0283c;text-align:right;white-space:nowrap">+1.61%</div>
<div style="position:absolute;left:874px;top:134.9px;height:15.6px;line-height:15.6px;font-size:13px;color:#d8d8d8;white-space:nowrap;">最低</div>
<div style="position:absolute;left:900px;width:88.5px;top:133.6px;line-height:16.8px;font-size:14px;color:#f0283c;text-align:right;white-space:nowrap">2401.435</div>
<div style="position:absolute;left:757px;top:167.5px;height:15.6px;line-height:15.6px;font-size:13px;color:#d8d8d8;white-space:nowrap;">振幅</div>
<div style="position:absolute;left:790px;width:81px;top:166.2px;line-height:16.8px;font-size:14px;color:#d8d8d8;text-align:right;white-space:nowrap">1.23%</div>
<div style="position:absolute;left:874px;top:167.5px;height:15.6px;line-height:15.6px;font-size:13px;color:#d8d8d8;white-space:nowrap;">均价</div>
<div style="position:absolute;left:900px;width:88.5px;top:166.2px;line-height:16.8px;font-size:14px;color:#2cc46a;text-align:right;white-space:nowrap">11.663</div>
<div style="position:absolute;left:757px;top:200.1px;height:15.6px;line-height:15.6px;font-size:13px;color:#d8d8d8;white-space:nowrap;">现手</div>
<div style="position:absolute;left:790px;width:81px;top:198.8px;line-height:16.8px;font-size:14px;color:#d8d8d8;text-align:right;white-space:nowrap">640</div>
<div style="position:absolute;left:874px;top:200.1px;height:15.6px;line-height:15.6px;font-size:13px;color:#d8d8d8;white-space:nowrap;">量比</div>
<div style="position:absolute;left:900px;width:88.5px;top:198.8px;line-height:16.8px;font-size:14px;color:#d8d8d8;text-align:right;white-space:nowrap">--</div>
<div style="position:absolute;left:757px;top:232.7px;height:15.6px;line-height:15.6px;font-size:13px;color:#d8d8d8;white-space:nowrap;">总手</div>
<div style="position:absolute;left:790px;width:81px;top:231.4px;line-height:16.8px;font-size:14px;color:#d8d8d8;text-align:right;white-space:nowrap">2087.99万</div>
<div style="position:absolute;left:874px;top:232.7px;height:15.6px;line-height:15.6px;font-size:13px;color:#d8d8d8;white-space:nowrap;">金额</div>
<div style="position:absolute;left:900px;width:88.5px;top:231.4px;line-height:16.8px;font-size:14px;color:#d8d8d8;text-align:right;white-space:nowrap">243.5亿</div>
<div style="position:absolute;left:757.5px;top:258.1px;line-height:16px;font-family:'Liberation Sans',sans-serif;font-size:13px;-webkit-text-stroke:0.35px currentColor;color:#e8e8e8;white-space:nowrap;letter-spacing:0.4px">11:27:41</div>
<div style="position:absolute;left:826.5px;top:258.1px;line-height:16px;font-family:'Liberation Sans',sans-serif;font-size:13px;-webkit-text-stroke:0.35px currentColor;color:#f0283c;white-space:nowrap;letter-spacing:0.5px">2427.162</div>
<div style="position:absolute;left:842px;width:100px;top:258.1px;line-height:16px;font-family:'Liberation Sans',sans-serif;font-size:13px;-webkit-text-stroke:0.35px currentColor;color:#8a8a8a;text-align:right;white-space:nowrap;letter-spacing:0.5px;margin-right:-0.5px">10055</div>
<svg style="position:absolute;left:942px;top:261.3px" width="13" height="10"><polygon points="0,5 5,0 5,3 12,3 12,7 5,7 5,10" fill="#8a8a8a"/></svg>
<div style="position:absolute;left:900px;width:89.5px;top:258.1px;line-height:16px;font-family:'Liberation Sans',sans-serif;font-size:13px;-webkit-text-stroke:0.35px currentColor;color:#f0f0f0;text-align:right;white-space:nowrap;letter-spacing:0.5px">1055</div>
<div style="position:absolute;left:757.5px;top:278.8px;line-height:16px;font-family:'Liberation Sans',sans-serif;font-size:13px;-webkit-text-stroke:0.35px currentColor;color:#e8e8e8;white-space:nowrap;letter-spacing:0.4px">11:27:51</div>
<div style="position:absolute;left:826.5px;top:278.8px;line-height:16px;font-family:'Liberation Sans',sans-serif;font-size:13px;-webkit-text-stroke:0.35px currentColor;color:#f0283c;white-space:nowrap;letter-spacing:0.5px">2427.102</div>
<div style="position:absolute;left:842px;width:100px;top:278.8px;line-height:16px;font-family:'Liberation Sans',sans-serif;font-size:13px;-webkit-text-stroke:0.35px currentColor;color:#8a8a8a;text-align:right;white-space:nowrap;letter-spacing:0.5px;margin-right:-0.5px">6671</div>
<svg style="position:absolute;left:942px;top:282.0px" width="13" height="10"><polygon points="0,5 5,0 5,3 12,3 12,7 5,7 5,10" fill="#8a8a8a"/></svg>
<div style="position:absolute;left:900px;width:89.5px;top:278.8px;line-height:16px;font-family:'Liberation Sans',sans-serif;font-size:13px;-webkit-text-stroke:0.35px currentColor;color:#f0f0f0;text-align:right;white-space:nowrap;letter-spacing:0.5px">1196</div>
<div style="position:absolute;left:757.5px;top:299.5px;line-height:16px;font-family:'Liberation Sans',sans-serif;font-size:13px;-webkit-text-stroke:0.35px currentColor;color:#e8e8e8;white-space:nowrap;letter-spacing:0.4px">11:28:01</div>
<div style="position:absolute;left:826.5px;top:299.5px;line-height:16px;font-family:'Liberation Sans',sans-serif;font-size:13px;-webkit-text-stroke:0.35px currentColor;color:#f0283c;white-space:nowrap;letter-spacing:0.5px">2427.302</div>
<div style="position:absolute;left:842px;width:100px;top:299.5px;line-height:16px;font-family:'Liberation Sans',sans-serif;font-size:13px;-webkit-text-stroke:0.35px currentColor;color:#8a8a8a;text-align:right;white-space:nowrap;letter-spacing:0.5px;margin-right:-0.5px">6662</div>
<svg style="position:absolute;left:942px;top:302.7px" width="13" height="10"><polygon points="0,5 5,0 5,3 12,3 12,7 5,7 5,10" fill="#8a8a8a"/></svg>
<div style="position:absolute;left:900px;width:89.5px;top:299.5px;line-height:16px;font-family:'Liberation Sans',sans-serif;font-size:13px;-webkit-text-stroke:0.35px currentColor;color:#f0f0f0;text-align:right;white-space:nowrap;letter-spacing:0.5px">1026</div>
<div style="position:absolute;left:757.5px;top:320.2px;line-height:16px;font-family:'Liberation Sans',sans-serif;font-size:13px;-webkit-text-stroke:0.35px currentColor;color:#e8e8e8;white-space:nowrap;letter-spacing:0.4px">11:28:11</div>
<div style="position:absolute;left:826.5px;top:320.2px;line-height:16px;font-family:'Liberation Sans',sans-serif;font-size:13px;-webkit-text-stroke:0.35px currentColor;color:#f0283c;white-space:nowrap;letter-spacing:0.5px">2427.394</div>
<div style="position:absolute;left:842px;width:100px;top:320.2px;line-height:16px;font-family:'Liberation Sans',sans-serif;font-size:13px;-webkit-text-stroke:0.35px currentColor;color:#8a8a8a;text-align:right;white-space:nowrap;letter-spacing:0.5px;margin-right:-0.5px">12760</div>
<svg style="position:absolute;left:942px;top:323.4px" width="13" height="10"><polygon points="0,5 5,0 5,3 12,3 12,7 5,7 5,10" fill="#8a8a8a"/></svg>
<div style="position:absolute;left:900px;width:89.5px;top:320.2px;line-height:16px;font-family:'Liberation Sans',sans-serif;font-size:13px;-webkit-text-stroke:0.35px currentColor;color:#f0f0f0;text-align:right;white-space:nowrap;letter-spacing:0.5px">1706</div>
<div style="position:absolute;left:757.5px;top:340.9px;line-height:16px;font-family:'Liberation Sans',sans-serif;font-size:13px;-webkit-text-stroke:0.35px currentColor;color:#e8e8e8;white-space:nowrap;letter-spacing:0.4px">11:28:21</div>
<div style="position:absolute;left:826.5px;top:340.9px;line-height:16px;font-family:'Liberation Sans',sans-serif;font-size:13px;-webkit-text-stroke:0.35px currentColor;color:#f0283c;white-space:nowrap;letter-spacing:0.5px">2427.487</div>
<div style="position:absolute;left:842px;width:100px;top:340.9px;line-height:16px;font-family:'Liberation Sans',sans-serif;font-size:13px;-webkit-text-stroke:0.35px currentColor;color:#8a8a8a;text-align:right;white-space:nowrap;letter-spacing:0.5px;margin-right:-0.5px">9256</div>
<svg style="position:absolute;left:942px;top:344.1px" width="13" height="10"><polygon points="0,5 5,0 5,3 12,3 12,7 5,7 5,10" fill="#8a8a8a"/></svg>
<div style="position:absolute;left:900px;width:89.5px;top:340.9px;line-height:16px;font-family:'Liberation Sans',sans-serif;font-size:13px;-webkit-text-stroke:0.35px currentColor;color:#f0f0f0;text-align:right;white-space:nowrap;letter-spacing:0.5px">1400</div>
<div style="position:absolute;left:757.5px;top:361.6px;line-height:16px;font-family:'Liberation Sans',sans-serif;font-size:13px;-webkit-text-stroke:0.35px currentColor;color:#e8e8e8;white-space:nowrap;letter-spacing:0.4px">11:28:31</div>
<div style="position:absolute;left:826.5px;top:361.6px;line-height:16px;font-family:'Liberation Sans',sans-serif;font-size:13px;-webkit-text-stroke:0.35px currentColor;color:#f0283c;white-space:nowrap;letter-spacing:0.5px">2427.494</div>
<div style="position:absolute;left:842px;width:100px;top:361.6px;line-height:16px;font-family:'Liberation Sans',sans-serif;font-size:13px;-webkit-text-stroke:0.35px currentColor;color:#8a8a8a;text-align:right;white-space:nowrap;letter-spacing:0.5px;margin-right:-0.5px">13979</div>
<svg style="position:absolute;left:942px;top:364.8px" width="13" height="10"><polygon points="0,5 5,0 5,3 12,3 12,7 5,7 5,10" fill="#8a8a8a"/></svg>
<div style="position:absolute;left:900px;width:89.5px;top:361.6px;line-height:16px;font-family:'Liberation Sans',sans-serif;font-size:13px;-webkit-text-stroke:0.35px currentColor;color:#f0f0f0;text-align:right;white-space:nowrap;letter-spacing:0.5px">1471</div>
<div style="position:absolute;left:757.5px;top:382.3px;line-height:16px;font-family:'Liberation Sans',sans-serif;font-size:13px;-webkit-text-stroke:0.35px currentColor;color:#e8e8e8;white-space:nowrap;letter-spacing:0.4px">11:28:41</div>
<div style="position:absolute;left:826.5px;top:382.3px;line-height:16px;font-family:'Liberation Sans',sans-serif;font-size:13px;-webkit-text-stroke:0.35px currentColor;color:#f0283c;white-space:nowrap;letter-spacing:0.5px">2427.774</div>
<div style="position:absolute;left:842px;width:100px;top:382.3px;line-height:16px;font-family:'Liberation Sans',sans-serif;font-size:13px;-webkit-text-stroke:0.35px currentColor;color:#8a8a8a;text-align:right;white-space:nowrap;letter-spacing:0.5px;margin-right:-0.5px">9837</div>
<svg style="position:absolute;left:942px;top:385.5px" width="13" height="10"><polygon points="0,5 5,0 5,3 12,3 12,7 5,7 5,10" fill="#8a8a8a"/></svg>
<div style="position:absolute;left:900px;width:89.5px;top:382.3px;line-height:16px;font-family:'Liberation Sans',sans-serif;font-size:13px;-webkit-text-stroke:0.35px currentColor;color:#f0f0f0;text-align:right;white-space:nowrap;letter-spacing:0.5px">1342</div>
<div style="position:absolute;left:757.5px;top:403.0px;line-height:16px;font-family:'Liberation Sans',sans-serif;font-size:13px;-webkit-text-stroke:0.35px currentColor;color:#e8e8e8;white-space:nowrap;letter-spacing:0.4px">11:28:51</div>
<div style="position:absolute;left:826.5px;top:403.0px;line-height:16px;font-family:'Liberation Sans',sans-serif;font-size:13px;-webkit-text-stroke:0.35px currentColor;color:#f0283c;white-space:nowrap;letter-spacing:0.5px">2427.904</div>
<div style="position:absolute;left:842px;width:100px;top:403.0px;line-height:16px;font-family:'Liberation Sans',sans-serif;font-size:13px;-webkit-text-stroke:0.35px currentColor;color:#8a8a8a;text-align:right;white-space:nowrap;letter-spacing:0.5px;margin-right:-0.5px">9509</div>
<svg style="position:absolute;left:942px;top:406.2px" width="13" height="10"><polygon points="0,5 5,0 5,3 12,3 12,7 5,7 5,10" fill="#8a8a8a"/></svg>
<div style="position:absolute;left:900px;width:89.5px;top:403.0px;line-height:16px;font-family:'Liberation Sans',sans-serif;font-size:13px;-webkit-text-stroke:0.35px currentColor;color:#f0f0f0;text-align:right;white-space:nowrap;letter-spacing:0.5px">1449</div>
<div style="position:absolute;left:757.5px;top:423.7px;line-height:16px;font-family:'Liberation Sans',sans-serif;font-size:13px;-webkit-text-stroke:0.35px currentColor;color:#e8e8e8;white-space:nowrap;letter-spacing:0.4px">11:29:01</div>
<div style="position:absolute;left:826.5px;top:423.7px;line-height:16px;font-family:'Liberation Sans',sans-serif;font-size:13px;-webkit-text-stroke:0.35px currentColor;color:#f0283c;white-space:nowrap;letter-spacing:0.5px">2427.876</div>
<div style="position:absolute;left:842px;width:100px;top:423.7px;line-height:16px;font-family:'Liberation Sans',sans-serif;font-size:13px;-webkit-text-stroke:0.35px currentColor;color:#8a8a8a;text-align:right;white-space:nowrap;letter-spacing:0.5px;margin-right:-0.5px">15191</div>
<svg style="position:absolute;left:942px;top:426.9px" width="13" height="10"><polygon points="0,5 5,0 5,3 12,3 12,7 5,7 5,10" fill="#8a8a8a"/></svg>
<div style="position:absolute;left:900px;width:89.5px;top:423.7px;line-height:16px;font-family:'Liberation Sans',sans-serif;font-size:13px;-webkit-text-stroke:0.35px currentColor;color:#f0f0f0;text-align:right;white-space:nowrap;letter-spacing:0.5px">1677</div>
<div style="position:absolute;left:757.5px;top:444.4px;line-height:16px;font-family:'Liberation Sans',sans-serif;font-size:13px;-webkit-text-stroke:0.35px currentColor;color:#e8e8e8;white-space:nowrap;letter-spacing:0.4px">11:29:11</div>
<div style="position:absolute;left:826.5px;top:444.4px;line-height:16px;font-family:'Liberation Sans',sans-serif;font-size:13px;-webkit-text-stroke:0.35px currentColor;color:#f0283c;white-space:nowrap;letter-spacing:0.5px">2427.839</div>
<div style="position:absolute;left:842px;width:100px;top:444.4px;line-height:16px;font-family:'Liberation Sans',sans-serif;font-size:13px;-webkit-text-stroke:0.35px currentColor;color:#8a8a8a;text-align:right;white-space:nowrap;letter-spacing:0.5px;margin-right:-0.5px">10279</div>
<svg style="position:absolute;left:942px;top:447.6px" width="13" height="10"><polygon points="0,5 5,0 5,3 12,3 12,7 5,7 5,10" fill="#8a8a8a"/></svg>
<div style="position:absolute;left:900px;width:89.5px;top:444.4px;line-height:16px;font-family:'Liberation Sans',sans-serif;font-size:13px;-webkit-text-stroke:0.35px currentColor;color:#f0f0f0;text-align:right;white-space:nowrap;letter-spacing:0.5px">1678</div>
<div style="position:absolute;left:757.5px;top:465.1px;line-height:16px;font-family:'Liberation Sans',sans-serif;font-size:13px;-webkit-text-stroke:0.35px currentColor;color:#e8e8e8;white-space:nowrap;letter-spacing:0.4px">11:29:21</div>
<div style="position:absolute;left:826.5px;top:465.1px;line-height:16px;font-family:'Liberation Sans',sans-serif;font-size:13px;-webkit-text-stroke:0.35px currentColor;color:#f0283c;white-space:nowrap;letter-spacing:0.5px">2427.917</div>
<div style="position:absolute;left:842px;width:100px;top:465.1px;line-height:16px;font-family:'Liberation Sans',sans-serif;font-size:13px;-webkit-text-stroke:0.35px currentColor;color:#8a8a8a;text-align:right;white-space:nowrap;letter-spacing:0.5px;margin-right:-0.5px">8762</div>
<svg style="position:absolute;left:942px;top:468.3px" width="13" height="10"><polygon points="0,5 5,0 5,3 12,3 12,7 5,7 5,10" fill="#8a8a8a"/></svg>
<div style="position:absolute;left:900px;width:89.5px;top:465.1px;line-height:16px;font-family:'Liberation Sans',sans-serif;font-size:13px;-webkit-text-stroke:0.35px currentColor;color:#f0f0f0;text-align:right;white-space:nowrap;letter-spacing:0.5px">1544</div>
<div style="position:absolute;left:757.5px;top:485.8px;line-height:16px;font-family:'Liberation Sans',sans-serif;font-size:13px;-webkit-text-stroke:0.35px currentColor;color:#e8e8e8;white-space:nowrap;letter-spacing:0.4px">11:29:31</div>
<div style="position:absolute;left:826.5px;top:485.8px;line-height:16px;font-family:'Liberation Sans',sans-serif;font-size:13px;-webkit-text-stroke:0.35px currentColor;color:#f0283c;white-space:nowrap;letter-spacing:0.5px">2427.899</div>
<div style="position:absolute;left:842px;width:100px;top:485.8px;line-height:16px;font-family:'Liberation Sans',sans-serif;font-size:13px;-webkit-text-stroke:0.35px currentColor;color:#8a8a8a;text-align:right;white-space:nowrap;letter-spacing:0.5px;margin-right:-0.5px">11891</div>
<svg style="position:absolute;left:942px;top:489.0px" width="13" height="10"><polygon points="0,5 5,0 5,3 12,3 12,7 5,7 5,10" fill="#8a8a8a"/></svg>
<div style="position:absolute;left:900px;width:89.5px;top:485.8px;line-height:16px;font-family:'Liberation Sans',sans-serif;font-size:13px;-webkit-text-stroke:0.35px currentColor;color:#f0f0f0;text-align:right;white-space:nowrap;letter-spacing:0.5px">1580</div>
<div style="position:absolute;left:757.5px;top:506.5px;line-height:16px;font-family:'Liberation Sans',sans-serif;font-size:13px;-webkit-text-stroke:0.35px currentColor;color:#e8e8e8;white-space:nowrap;letter-spacing:0.4px">11:29:41</div>
<div style="position:absolute;left:826.5px;top:506.5px;line-height:16px;font-family:'Liberation Sans',sans-serif;font-size:13px;-webkit-text-stroke:0.35px currentColor;color:#f0283c;white-space:nowrap;letter-spacing:0.5px">2427.903</div>
<div style="position:absolute;left:842px;width:100px;top:506.5px;line-height:16px;font-family:'Liberation Sans',sans-serif;font-size:13px;-webkit-text-stroke:0.35px currentColor;color:#8a8a8a;text-align:right;white-space:nowrap;letter-spacing:0.5px;margin-right:-0.5px">12899</div>
<svg style="position:absolute;left:942px;top:509.7px" width="13" height="10"><polygon points="0,5 5,0 5,3 12,3 12,7 5,7 5,10" fill="#8a8a8a"/></svg>
<div style="position:absolute;left:900px;width:89.5px;top:506.5px;line-height:16px;font-family:'Liberation Sans',sans-serif;font-size:13px;-webkit-text-stroke:0.35px currentColor;color:#f0f0f0;text-align:right;white-space:nowrap;letter-spacing:0.5px">1600</div>
<div style="position:absolute;left:757.5px;top:527.2px;line-height:16px;font-family:'Liberation Sans',sans-serif;font-size:13px;-webkit-text-stroke:0.35px currentColor;color:#e8e8e8;white-space:nowrap;letter-spacing:0.4px">11:29:51</div>
<div style="position:absolute;left:826.5px;top:527.2px;line-height:16px;font-family:'Liberation Sans',sans-serif;font-size:13px;-webkit-text-stroke:0.35px currentColor;color:#f0283c;white-space:nowrap;letter-spacing:0.5px">2427.889</div>
<div style="position:absolute;left:842px;width:100px;top:527.2px;line-height:16px;font-family:'Liberation Sans',sans-serif;font-size:13px;-webkit-text-stroke:0.35px currentColor;color:#8a8a8a;text-align:right;white-space:nowrap;letter-spacing:0.5px;margin-right:-0.5px">8762</div>
<svg style="position:absolute;left:942px;top:530.4px" width="13" height="10"><polygon points="0,5 5,0 5,3 12,3 12,7 5,7 5,10" fill="#8a8a8a"/></svg>
<div style="position:absolute;left:900px;width:89.5px;top:527.2px;line-height:16px;font-family:'Liberation Sans',sans-serif;font-size:13px;-webkit-text-stroke:0.35px currentColor;color:#f0f0f0;text-align:right;white-space:nowrap;letter-spacing:0.5px">1214</div>
<div style="position:absolute;left:757.5px;top:547.9px;line-height:16px;font-family:'Liberation Sans',sans-serif;font-size:13px;-webkit-text-stroke:0.35px currentColor;color:#e8e8e8;white-space:nowrap;letter-spacing:0.4px">11:30:01</div>
<div style="position:absolute;left:826.5px;top:547.9px;line-height:16px;font-family:'Liberation Sans',sans-serif;font-size:13px;-webkit-text-stroke:0.35px currentColor;color:#f0283c;white-space:nowrap;letter-spacing:0.5px">2427.784</div>
<div style="position:absolute;left:842px;width:100px;top:547.9px;line-height:16px;font-family:'Liberation Sans',sans-serif;font-size:13px;-webkit-text-stroke:0.35px currentColor;color:#8a8a8a;text-align:right;white-space:nowrap;letter-spacing:0.5px;margin-right:-0.5px">9649</div>
<svg style="position:absolute;left:942px;top:551.1px" width="13" height="10"><polygon points="0,5 5,0 5,3 12,3 12,7 5,7 5,10" fill="#8a8a8a"/></svg>
<div style="position:absolute;left:900px;width:89.5px;top:547.9px;line-height:16px;font-family:'Liberation Sans',sans-serif;font-size:13px;-webkit-text-stroke:0.35px currentColor;color:#f0f0f0;text-align:right;white-space:nowrap;letter-spacing:0.5px">1659</div>
<div style="position:absolute;left:757.5px;top:568.6px;line-height:16px;font-family:'Liberation Sans',sans-serif;font-size:13px;-webkit-text-stroke:0.35px currentColor;color:#e8e8e8;white-space:nowrap;letter-spacing:0.4px">11:30:11</div>
<div style="position:absolute;left:826.5px;top:568.6px;line-height:16px;font-family:'Liberation Sans',sans-serif;font-size:13px;-webkit-text-stroke:0.35px currentColor;color:#f0283c;white-space:nowrap;letter-spacing:0.5px">2427.731</div>
<div style="position:absolute;left:842px;width:100px;top:568.6px;line-height:16px;font-family:'Liberation Sans',sans-serif;font-size:13px;-webkit-text-stroke:0.35px currentColor;color:#8a8a8a;text-align:right;white-space:nowrap;letter-spacing:0.5px;margin-right:-0.5px">640</div>
<svg style="position:absolute;left:942px;top:571.8px" width="13" height="10"><polygon points="0,5 5,0 5,3 12,3 12,7 5,7 5,10" fill="#8a8a8a"/></svg>
<div style="position:absolute;left:900px;width:89.5px;top:568.6px;line-height:16px;font-family:'Liberation Sans',sans-serif;font-size:13px;-webkit-text-stroke:0.35px currentColor;color:#f0f0f0;text-align:right;white-space:nowrap;letter-spacing:0.5px">127</div>
<div style="position:absolute;left:24px;top:588px;width:29px;height:19px;border:1px solid #3a3b42;border-bottom:none;box-sizing:border-box;background:#1b1d22;color:#e0e0e0;font:12px/20px 'Liberation Sans', 'Noto Sans CJK SC', sans-serif;text-align:center">设置</div>
<div style="position:absolute;left:56px;top:588px;width:83px;height:19px;border:1px solid #3a3b42;border-bottom:none;box-sizing:border-box;background:#1b1d22;color:#e0e0e0;font:12px/20px 'Liberation Sans', 'Noto Sans CJK SC', sans-serif;text-align:center"><span style="color:#2a6ee0;font-weight:bold">NEW</span>指标广场</div>
<div style="position:absolute;left:140px;top:588px;width:50.0px;height:19px;border-radius:4px 4px 0 0;background:#1f63d6;color:#ffffff;font:12.5px/20px 'Liberation Sans', 'Noto Sans CJK SC', sans-serif;text-align:center;overflow:hidden;white-space:nowrap">MACD</div>
<div style="position:absolute;left:191.5px;top:588px;width:34.0px;height:19px;border-radius:4px 4px 0 0;background:#383940;color:#d8d8d8;font:12.5px/20px 'Liberation Sans', 'Noto Sans CJK SC', sans-serif;text-align:center;overflow:hidden;white-space:nowrap">KDJ</div>
<div style="position:absolute;left:227px;top:588px;width:31.5px;height:19px;border-radius:4px 4px 0 0;background:#383940;color:#d8d8d8;font:12.5px/20px 'Liberation Sans', 'Noto Sans CJK SC', sans-serif;text-align:center;overflow:hidden;white-space:nowrap">RSI</div>
<div style="position:absolute;left:260px;top:588px;width:42.5px;height:19px;border-radius:4px 4px 0 0;background:#383940;color:#d8d8d8;font:12.5px/20px 'Liberation Sans', 'Noto Sans CJK SC', sans-serif;text-align:center;overflow:hidden;white-space:nowrap">BOLL</div>
<div style="position:absolute;left:304.5px;top:588px;width:42.0px;height:19px;border-radius:4px 4px 0 0;background:#383940;color:#d8d8d8;font:12.5px/20px 'Liberation Sans', 'Noto Sans CJK SC', sans-serif;text-align:center;overflow:hidden;white-space:nowrap">W&amp;R</div>
<div style="position:absolute;left:348.5px;top:588px;width:37.0px;height:19px;border-radius:4px 4px 0 0;background:#383940;color:#d8d8d8;font:12.5px/20px 'Liberation Sans', 'Noto Sans CJK SC', sans-serif;text-align:center;overflow:hidden;white-space:nowrap">DMI</div>
<div style="position:absolute;left:387.5px;top:588px;width:39.0px;height:19px;border-radius:4px 4px 0 0;background:#383940;color:#d8d8d8;font:12.5px/20px 'Liberation Sans', 'Noto Sans CJK SC', sans-serif;text-align:center;overflow:hidden;white-space:nowrap">BIAS</div>
<div style="position:absolute;left:428.5px;top:588px;width:31.0px;height:19px;border-radius:4px 4px 0 0;background:#383940;color:#d8d8d8;font:12.5px/20px 'Liberation Sans', 'Noto Sans CJK SC', sans-serif;text-align:center;overflow:hidden;white-space:nowrap">ASI</div>
<div style="position:absolute;left:461.5px;top:588px;width:28.5px;height:19px;border-radius:4px 4px 0 0;background:#383940;color:#d8d8d8;font:12.5px/20px 'Liberation Sans', 'Noto Sans CJK SC', sans-serif;text-align:center;overflow:hidden;white-space:nowrap">VR</div>
<div style="position:absolute;left:491.5px;top:588px;width:43.5px;height:19px;border-radius:4px 4px 0 0;background:#383940;color:#d8d8d8;font:12.5px/20px 'Liberation Sans', 'Noto Sans CJK SC', sans-serif;text-align:center;overflow:hidden;white-space:nowrap">ARBR</div>
<div style="position:absolute;left:537.5px;top:588px;width:38.0px;height:19px;border-radius:4px 4px 0 0;background:#383940;color:#d8d8d8;font:12.5px/20px 'Liberation Sans', 'Noto Sans CJK SC', sans-serif;text-align:center;overflow:hidden;white-space:nowrap">DPO</div>
<div style="position:absolute;left:578px;top:588px;width:38.0px;height:19px;border-radius:4px 4px 0 0;background:#383940;color:#d8d8d8;font:12.5px/20px 'Liberation Sans', 'Noto Sans CJK SC', sans-serif;text-align:center;overflow:hidden;white-space:nowrap">TRIX</div>
<div style="position:absolute;left:618.5px;top:588px;width:53.5px;height:19px;border-radius:4px 4px 0 0;background:#383940;color:#d8d8d8;font:12.5px/20px 'Liberation Sans', 'Noto Sans CJK SC', sans-serif;text-align:center;overflow:hidden;white-space:nowrap">新DMA</div>
<div style="position:absolute;left:674px;top:588px;width:32.0px;height:19px;border-radius:4px 4px 0 0;background:#383940;color:#d8d8d8;font:12.5px/20px 'Liberation Sans', 'Noto Sans CJK SC', sans-serif;text-align:center;overflow:hidden;white-space:nowrap">BBI</div>
<div style="position:absolute;left:707.5px;top:588px;width:7.0px;height:19px;border-radius:4px 4px 0 0;background:#383940;color:#d8d8d8;font:12.5px/20px 'Liberation Sans', 'Noto Sans CJK SC', sans-serif;text-align:center;overflow:hidden;white-space:nowrap">|</div>
<div style="position:absolute;left:716.5px;top:589px;width:18.0px;height:18px;border-radius:4px 4px 0 0;background:#383940"></div>
<svg style="position:absolute;left:716.5px;top:589px" width="18.0" height="18"><polyline points="11,4.5 6.5,9.5 11,14.5" fill="none" stroke="#d0d0d0" stroke-width="1.2"/></svg>
<div style="position:absolute;left:736px;top:589px;width:18.5px;height:18px;border-radius:4px 4px 0 0;background:#383940"></div>
<svg style="position:absolute;left:736px;top:589px" width="18.5" height="18"><polyline points="7.5,4.5 12,9.5 7.5,14.5" fill="none" stroke="#d0d0d0" stroke-width="1.2"/></svg>
<div style="position:absolute;left:755.5px;top:588px;width:24.0px;height:19px;border-radius:4px 4px 0 0;background:#1f63d6;color:#ffffff;font:12.5px/21px 'Liberation Sans', 'Noto Sans CJK SC', sans-serif;text-align:center">细</div>
<div style="position:absolute;left:781.5px;top:588px;width:23.5px;height:19px;border-radius:4px 4px 0 0;background:#383940;color:#d8d8d8;font:12.5px/21px 'Liberation Sans', 'Noto Sans CJK SC', sans-serif;text-align:center">分</div>
<div style="position:absolute;left:807.5px;top:588px;width:24.0px;height:19px;border-radius:4px 4px 0 0;background:#383940;color:#d8d8d8;font:12.5px/21px 'Liberation Sans', 'Noto Sans CJK SC', sans-serif;text-align:center">筹</div>
<div style="position:absolute;left:833.5px;top:588px;width:23.5px;height:19px;border-radius:4px 4px 0 0;background:#383940;color:#d8d8d8;font:12.5px/21px 'Liberation Sans', 'Noto Sans CJK SC', sans-serif;text-align:center">焰</div>
</body></html>
